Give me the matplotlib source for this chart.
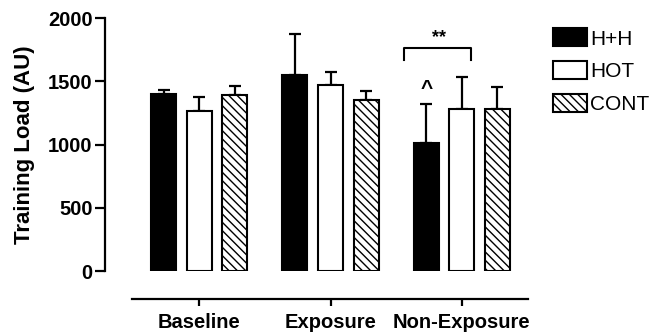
import numpy as np
import matplotlib
matplotlib.use("Agg")
import matplotlib.pyplot as plt
from matplotlib.patches import Patch

plt.rcParams['font.family'] = ['Liberation Sans', 'DejaVu Sans']
plt.rcParams['hatch.linewidth'] = 1.0

groups = ['Baseline', 'Exposure', 'Non-Exposure']
series = ['H+H', 'HOT', 'CONT']
means = {
    'H+H': [1399, 1552, 1014],
    'HOT': [1265, 1470, 1281],
    'CONT': [1391, 1352, 1281],
}
sd = {
    'H+H': [31, 321, 306],
    'HOT': [110, 105, 255],
    'CONT': [74, 71, 171],
}
yticks = [0, 500, 1000, 1500, 2000]

faces = {'H+H': 'black', 'HOT': 'white', 'CONT': 'white'}
hatches = {'H+H': None, 'HOT': None, 'CONT': '\\\\\\\\'}
offsets = [-0.271, 0.0, 0.271]
width = 0.19

fig = plt.figure(figsize=(6.52, 3.35), dpi=100)
ax = fig.add_axes([0.161, 0.191, 0.652, 0.755])

# spines first (set_position resets tick formatting)
for side in ['top', 'right']:
    ax.spines[side].set_visible(False)
ax.spines['bottom'].set_position(('outward', 20))
ax.spines['left'].set_linewidth(1.6)
ax.spines['bottom'].set_linewidth(1.6)

x = np.arange(len(groups))
for s, off in zip(series, offsets):
    ax.bar(x + off, means[s], width, color=faces[s], edgecolor='black',
           linewidth=1.5, hatch=hatches[s], zorder=2)
    ax.errorbar(x + off, means[s], yerr=[np.zeros(3), sd[s]], fmt='none',
                ecolor='black', elinewidth=1.6, capsize=4.5, capthick=1.6,
                zorder=1)

ax.set_ylim(0, 2000)
ax.set_xlim(-0.718, 2.52)
ax.spines['left'].set_bounds(0, 2000)
ax.spines['bottom'].set_bounds(-0.511, 2.504)
ax.set_yticks(yticks)
ax.set_xticks(x)
ax.set_xticklabels(groups)
ax.set_yticklabels([str(t) for t in yticks])
ax.tick_params(axis='y', length=7, width=1.6, pad=2, labelsize=14.5)
ax.tick_params(axis='x', length=5, width=1.6, pad=5, labelsize=14.5)
for lab in ax.get_xticklabels() + ax.get_yticklabels():
    lab.set_fontweight('bold')
ax.set_ylabel('Training Load (AU)', fontsize=16, fontweight='bold', labelpad=9)

# significance bracket and markers
ax.plot([1.557, 1.557, 2.069, 2.069], [1668, 1763, 1763, 1668], color='black',
        lw=1.5, clip_on=False)
ax.text(1.824, 1775, '**', ha='center', va='bottom', fontsize=13,
        fontweight='bold')
ax.text(2 + offsets[0], 1370, '^', ha='center', va='bottom', fontsize=15,
        fontweight='bold')

handles = [Patch(facecolor=faces[s], edgecolor='black', linewidth=1.5,
                 hatch=hatches[s], label=s) for s in series]
fig.legend(handles=handles, loc='upper left', bbox_to_anchor=(0.836, 0.94),
           frameon=False, fontsize=15, handlelength=1.63, handleheight=0.95,
           handletextpad=0.12, labelspacing=0.6, borderaxespad=0)

fig.savefig('out.png', dpi=100)
